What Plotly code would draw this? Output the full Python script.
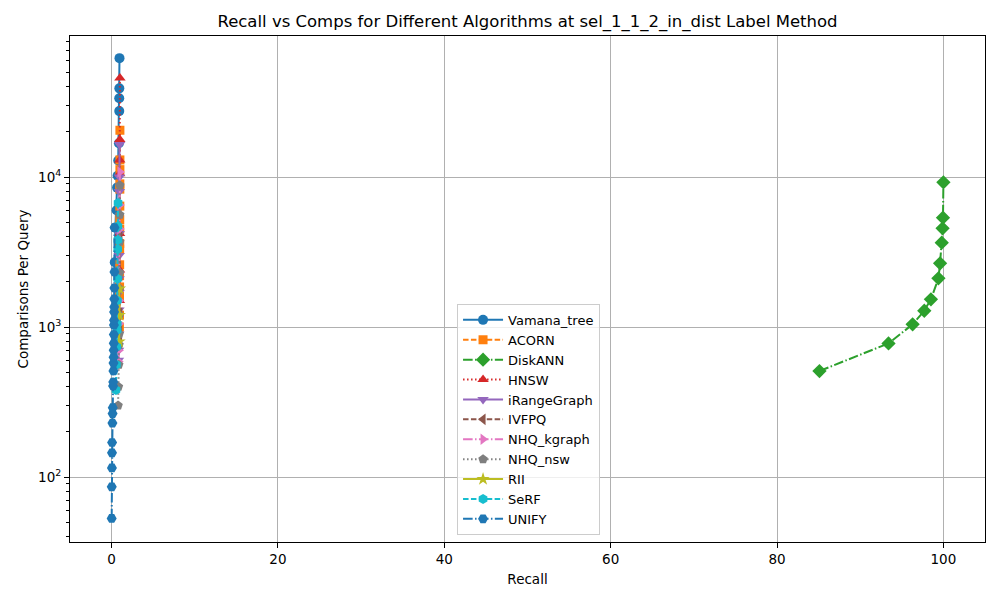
import plotly.graph_objects as go

# ---------------- data ----------------
vamana_recall = [0.95, 0.93, 0.92, 0.92, 0.88, 0.80, 0.72, 0.66, 0.60, 0.45, 0.38]
vamana_comps = [62000, 39000, 33500, 27500, 16800, 12900, 10200, 8500, 6000, 4600, 2700]

acorn_recall = [1.0, 1.0, 1.0, 0.99, 0.99, 0.99, 0.98, 0.98, 0.98, 0.97, 0.97, 0.96, 0.96, 0.95, 0.95, 0.94]
acorn_comps = [20500, 13000, 11200, 9000, 8300, 6400, 5200, 4500, 3600, 3300, 2600, 2200, 1850, 1600, 1200, 1000]

diskann_recall = [85.1, 93.4, 96.3, 97.7, 98.5, 99.4, 99.6, 99.8, 99.9, 99.95, 100.0]
diskann_comps = [509, 778, 1042, 1284, 1530, 2112, 2660, 3648, 4550, 5354, 9220]

hnsw_recall = [1.0, 0.99, 0.98, 0.97, 0.96, 0.95, 0.94]
hnsw_comps = [45700, 17800, 13000, 10500, 4200, 2400, 1500]

irange_recall = [0.96, 0.94, 0.93, 0.92, 0.91, 0.90, 0.89, 0.88, 0.86, 0.84, 0.82]
irange_comps = [16500, 10000, 8000, 4200, 3000, 2100, 1700, 1300, 900, 700, 600]

ivfpq_recall = [1.0, 0.99, 0.98, 0.97, 0.96]
ivfpq_comps = [4000, 2200, 1240, 1000, 800]

nhqk_recall = [1.0, 0.99, 0.98, 0.96, 0.94, 0.92, 0.88, 0.85]
nhqk_comps = [10800, 6500, 4500, 2300, 1500, 1050, 700, 590]

nhqn_recall = [0.99, 0.98, 0.97, 0.96, 0.95, 0.93, 0.91, 0.89, 0.86, 0.82, 0.78]
nhqn_comps = [8800, 5600, 3700, 2300, 1800, 1200, 900, 760, 560, 400, 300]

rii_recall = [0.95, 0.93, 0.90]
rii_comps = [1800, 1200, 800]

serf_recall = [0.78, 0.76, 0.75, 0.74, 0.72, 0.70, 0.68, 0.66, 0.62, 0.58, 0.52]
serf_comps = [6700, 4700, 3800, 3300, 2100, 1500, 1050, 950, 740, 560, 380]

unify_recall = [0.01, 0.02, 0.04, 0.05, 0.06, 0.10, 0.12, 0.14, 0.18, 0.20, 0.22, 0.23,
                0.24, 0.25, 0.26, 0.27, 0.28, 0.29, 0.30, 0.31, 0.32, 0.33, 0.34, 0.35]
unify_comps = [53, 86, 115, 145, 170, 229, 265, 290, 405, 430, 510, 575,
               630, 700, 780, 890, 1030, 1110, 1260, 1360, 1540, 1820, 2330, 4600]

series_names = ["Vamana_tree", "ACORN", "DiskANN", "HNSW", "iRangeGraph", "IVFPQ",
                "NHQ_kgraph", "NHQ_nsw", "RII", "SeRF", "UNIFY"]
series_x = [vamana_recall, acorn_recall, diskann_recall, hnsw_recall, irange_recall,
            ivfpq_recall, nhqk_recall, nhqn_recall, rii_recall, serf_recall, unify_recall]
series_y = [vamana_comps, acorn_comps, diskann_comps, hnsw_comps, irange_comps,
            ivfpq_comps, nhqk_comps, nhqn_comps, rii_comps, serf_comps, unify_comps]

y_tick_vals = [100, 1000, 10000]
y_tick_text = ["10<sup>2</sup>", "10<sup>3</sup>", "10<sup>4</sup>"]
x_tick_vals = [0, 20, 40, 60, 80, 100]

# ---------------- styles ----------------
colors = ["#1f77b4", "#ff7f0e", "#2ca02c", "#d62728", "#9467bd", "#8c564b",
          "#e377c2", "#7f7f7f", "#bcbd22", "#17becf", "#1f77b4"]
symbols = ["circle", "square", "diamond", "triangle-up", "triangle-down", "triangle-left",
           "triangle-right", "pentagon", "star", "hexagon", "hexagon2"]
SOLID = "solid"
DASH = "5.5px,2.4px"
DASHDOT = "9.6px,2.4px,1.5px,2.4px"
DOT = "1.5px,2.5px"
dashes = [SOLID, DASH, DASHDOT, DOT, SOLID, DASH, DASHDOT, DOT, SOLID, DASH, DASHDOT]
sizes = [10, 9, 11, 10, 10, 10, 10, 10, 10, 10, 10]

fig = go.Figure()
for name, xs, ys, c, s, d, ms in zip(series_names, series_x, series_y, colors, symbols, dashes, sizes):
    fig.add_trace(go.Scatter(
        x=xs, y=ys, name=name, mode="lines+markers",
        line=dict(color=c, width=2, dash=d),
        marker=dict(color=c, symbol=s, size=ms, line=dict(width=0)),
    ))

minor_vals = [m * 10 ** k for k in range(1, 5) for m in range(2, 10)]

font_family = "DejaVu Sans, Arial, sans-serif"
fig.update_layout(
    width=992, height=592,
    margin=dict(l=62, r=15, t=28, b=58, autoexpand=False),
    paper_bgcolor="white", plot_bgcolor="white",
    font=dict(family=font_family, size=13.5, color="black"),
    title=dict(text="Recall vs Comps for Different Algorithms at sel_1_1_2_in_dist Label Method",
               x=0.5237, xref="container", xanchor="center", y=0.978, yanchor="middle",
               font=dict(size=16.5, color="black")),
    showlegend=True,
    legend=dict(x=0.423, y=0.014, xanchor="left", yanchor="bottom",
                bgcolor="rgba(255,255,255,0.8)", bordercolor="#cccccc", borderwidth=1,
                font=dict(size=13), tracegroupgap=0, itemwidth=40),
)
fig.update_xaxes(
    range=[-5, 105], tickvals=x_tick_vals, ticks="outside", ticklen=5, tickcolor="black",
    showgrid=True, gridcolor="#b0b0b0", gridwidth=0.8, zeroline=False, automargin=False,
    showline=True, linecolor="black", linewidth=1, mirror=True,
    title=dict(text="Recall", standoff=8, font=dict(size=13.5)),
)
fig.update_yaxes(
    type="log", range=[1.567, 4.94], tickvals=y_tick_vals, ticktext=y_tick_text,
    ticks="outside", ticklen=5, tickcolor="black", automargin=False,
    showgrid=True, gridcolor="#b0b0b0", gridwidth=0.8, zeroline=False,
    showline=True, linecolor="black", linewidth=1, mirror=True,
    minor=dict(tickvals=minor_vals, ticks="outside", ticklen=3, tickcolor="black", showgrid=False),
    title=dict(text="Comparisons Per Query", standoff=6, font=dict(size=13.5)),
)

fig.write_html("out.html")
